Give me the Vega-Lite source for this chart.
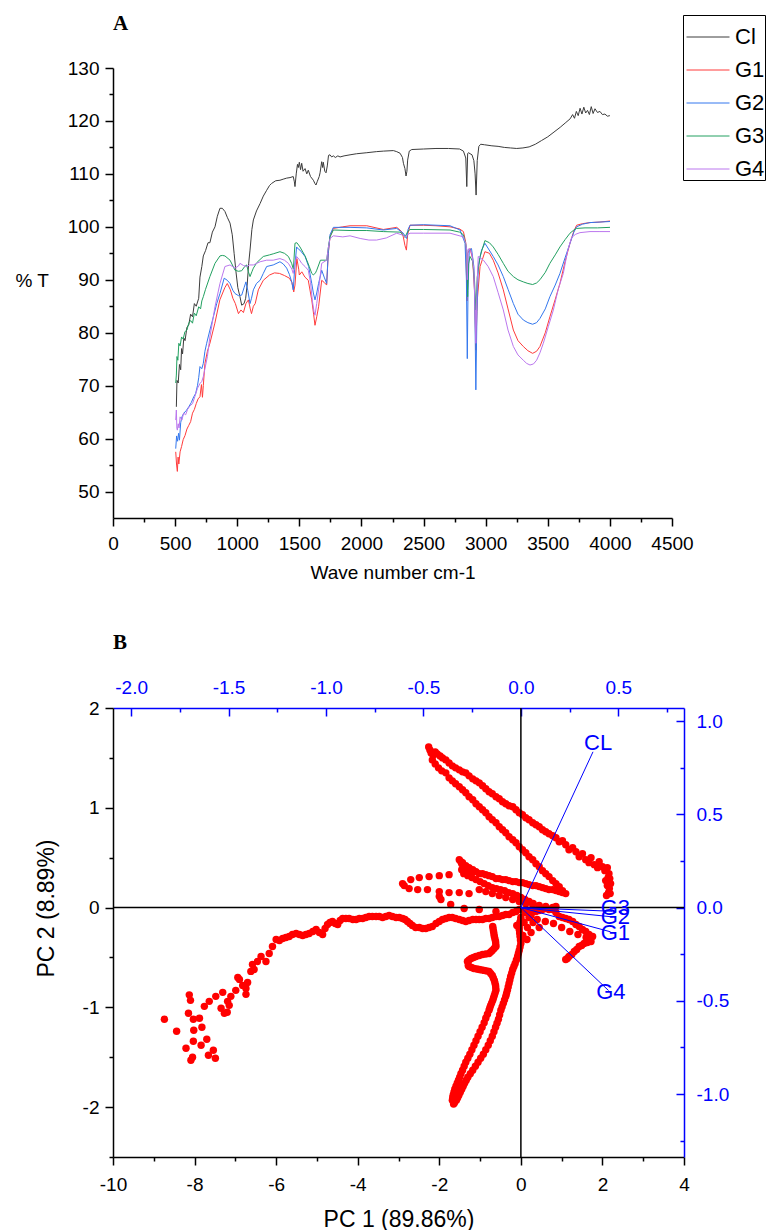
{
"$schema": "https://vega.github.io/schema/vega-lite/v6.json",
"background": "white",
"padding": {"left": 15, "top": 13, "right": 0, "bottom": 0},
"config": {"font": "Liberation Sans", "view": {"stroke": null}, "axis": {"grid": false, "labelFont": "Liberation Sans", "titleFont": "Liberation Sans", "titleFontWeight": "normal"}},
"spacing": 50,
"datasets": {
"spectra": [
{"s":"Cl","wn":510,"T":66},{"s":"Cl","wn":515,"T":71},{"s":"Cl","wn":525,"T":70.5},{"s":"Cl","wn":535,"T":74},{"s":"Cl","wn":545,"T":73},{"s":"Cl","wn":552,"T":77},{"s":"Cl","wn":560,"T":76},{"s":"Cl","wn":570,"T":79},{"s":"Cl","wn":580,"T":78.5},{"s":"Cl","wn":595,"T":81},{"s":"Cl","wn":610,"T":81.5},{"s":"Cl","wn":625,"T":83.5},{"s":"Cl","wn":640,"T":83},{"s":"Cl","wn":655,"T":85.5},{"s":"Cl","wn":670,"T":85},{"s":"Cl","wn":690,"T":86.5},{"s":"Cl","wn":700,"T":90.5},{"s":"Cl","wn":715,"T":92.5},{"s":"Cl","wn":727,"T":94.5},{"s":"Cl","wn":745,"T":95.5},{"s":"Cl","wn":765,"T":97},{"s":"Cl","wn":780,"T":97},{"s":"Cl","wn":800,"T":99},{"s":"Cl","wn":821,"T":100},{"s":"Cl","wn":840,"T":102},{"s":"Cl","wn":861,"T":103.5},{"s":"Cl","wn":880,"T":103.5},{"s":"Cl","wn":901,"T":102.9},{"s":"Cl","wn":920,"T":101.8},{"s":"Cl","wn":942,"T":100.7},{"s":"Cl","wn":960,"T":98.5},{"s":"Cl","wn":975,"T":95},{"s":"Cl","wn":990,"T":91.5},{"s":"Cl","wn":1005,"T":88.5},{"s":"Cl","wn":1022,"T":86.8},{"s":"Cl","wn":1036,"T":85.2},{"s":"Cl","wn":1055,"T":85.5},{"s":"Cl","wn":1068,"T":86.5},{"s":"Cl","wn":1080,"T":89},{"s":"Cl","wn":1092,"T":93},{"s":"Cl","wn":1103,"T":95.6},{"s":"Cl","wn":1118,"T":99.5},{"s":"Cl","wn":1130,"T":101.3},{"s":"Cl","wn":1155,"T":103},{"s":"Cl","wn":1184,"T":104.4},{"s":"Cl","wn":1210,"T":105.8},{"s":"Cl","wn":1237,"T":106.9},{"s":"Cl","wn":1260,"T":107.8},{"s":"Cl","wn":1277,"T":108.2},{"s":"Cl","wn":1310,"T":108.7},{"s":"Cl","wn":1344,"T":108.8},{"s":"Cl","wn":1370,"T":109},{"s":"Cl","wn":1398,"T":109.2},{"s":"Cl","wn":1425,"T":109.3},{"s":"Cl","wn":1451,"T":109.5},{"s":"Cl","wn":1460,"T":108.5},{"s":"Cl","wn":1465,"T":107.6},{"s":"Cl","wn":1475,"T":110},{"s":"Cl","wn":1485,"T":111.8},{"s":"Cl","wn":1492,"T":111.2},{"s":"Cl","wn":1500,"T":112.2},{"s":"Cl","wn":1510,"T":110.8},{"s":"Cl","wn":1519,"T":112},{"s":"Cl","wn":1530,"T":110.5},{"s":"Cl","wn":1546,"T":111},{"s":"Cl","wn":1560,"T":110},{"s":"Cl","wn":1572,"T":110.7},{"s":"Cl","wn":1590,"T":109.5},{"s":"Cl","wn":1613,"T":108.8},{"s":"Cl","wn":1625,"T":108.2},{"s":"Cl","wn":1634,"T":107.9},{"s":"Cl","wn":1645,"T":108.6},{"s":"Cl","wn":1660,"T":109.5},{"s":"Cl","wn":1667,"T":110.2},{"s":"Cl","wn":1680,"T":112.3},{"s":"Cl","wn":1688,"T":111.2},{"s":"Cl","wn":1693,"T":112.2},{"s":"Cl","wn":1705,"T":110.5},{"s":"Cl","wn":1715,"T":110.2},{"s":"Cl","wn":1725,"T":111.5},{"s":"Cl","wn":1735,"T":113.5},{"s":"Cl","wn":1747,"T":113.6},{"s":"Cl","wn":1760,"T":113.2},{"s":"Cl","wn":1774,"T":113.4},{"s":"Cl","wn":1790,"T":113.1},{"s":"Cl","wn":1810,"T":113.4},{"s":"Cl","wn":1828,"T":113.2},{"s":"Cl","wn":1860,"T":113.4},{"s":"Cl","wn":1908,"T":113.6},{"s":"Cl","wn":1960,"T":113.8},{"s":"Cl","wn":2043,"T":114},{"s":"Cl","wn":2120,"T":114.2},{"s":"Cl","wn":2176,"T":114.3},{"s":"Cl","wn":2257,"T":114.4},{"s":"Cl","wn":2284,"T":114.2},{"s":"Cl","wn":2311,"T":113.9},{"s":"Cl","wn":2330,"T":113.1},{"s":"Cl","wn":2338,"T":112},{"s":"Cl","wn":2350,"T":111},{"s":"Cl","wn":2359,"T":109.6},{"s":"Cl","wn":2366,"T":110.5},{"s":"Cl","wn":2372,"T":112.6},{"s":"Cl","wn":2385,"T":114.3},{"s":"Cl","wn":2405,"T":114.6},{"s":"Cl","wn":2500,"T":114.7},{"s":"Cl","wn":2600,"T":114.8},{"s":"Cl","wn":2700,"T":114.8},{"s":"Cl","wn":2790,"T":114.7},{"s":"Cl","wn":2821,"T":114.3},{"s":"Cl","wn":2840,"T":113},{"s":"Cl","wn":2848,"T":107.6},{"s":"Cl","wn":2855,"T":113.8},{"s":"Cl","wn":2861,"T":114},{"s":"Cl","wn":2890,"T":113.6},{"s":"Cl","wn":2905,"T":112.5},{"s":"Cl","wn":2915,"T":110},{"s":"Cl","wn":2923,"T":106},{"s":"Cl","wn":2932,"T":112.5},{"s":"Cl","wn":2945,"T":115.2},{"s":"Cl","wn":2960,"T":115.6},{"s":"Cl","wn":2990,"T":115.5},{"s":"Cl","wn":3050,"T":115.3},{"s":"Cl","wn":3100,"T":115.2},{"s":"Cl","wn":3150,"T":115},{"s":"Cl","wn":3200,"T":114.9},{"s":"Cl","wn":3250,"T":114.8},{"s":"Cl","wn":3300,"T":114.9},{"s":"Cl","wn":3350,"T":115.1},{"s":"Cl","wn":3400,"T":115.6},{"s":"Cl","wn":3450,"T":116.3},{"s":"Cl","wn":3500,"T":117},{"s":"Cl","wn":3550,"T":117.9},{"s":"Cl","wn":3600,"T":118.8},{"s":"Cl","wn":3640,"T":119.6},{"s":"Cl","wn":3680,"T":120.4},{"s":"Cl","wn":3700,"T":121.2},{"s":"Cl","wn":3715,"T":120.5},{"s":"Cl","wn":3730,"T":121.8},{"s":"Cl","wn":3745,"T":121},{"s":"Cl","wn":3760,"T":122.4},{"s":"Cl","wn":3775,"T":121.3},{"s":"Cl","wn":3790,"T":122.6},{"s":"Cl","wn":3805,"T":121.5},{"s":"Cl","wn":3820,"T":122},{"s":"Cl","wn":3835,"T":121.2},{"s":"Cl","wn":3850,"T":122.7},{"s":"Cl","wn":3865,"T":121.4},{"s":"Cl","wn":3880,"T":122.3},{"s":"Cl","wn":3900,"T":121.6},{"s":"Cl","wn":3920,"T":121.8},{"s":"Cl","wn":3940,"T":121.2},{"s":"Cl","wn":3960,"T":121.3},{"s":"Cl","wn":3980,"T":120.9},{"s":"Cl","wn":4000,"T":121},
{"s":"G1","wn":505,"T":57.5},{"s":"G1","wn":512,"T":55},{"s":"G1","wn":518,"T":53.8},{"s":"G1","wn":524,"T":56.5},{"s":"G1","wn":530,"T":55.2},{"s":"G1","wn":540,"T":57.5},{"s":"G1","wn":552,"T":58.5},{"s":"G1","wn":565,"T":59.8},{"s":"G1","wn":580,"T":60.6},{"s":"G1","wn":595,"T":61.8},{"s":"G1","wn":610,"T":62.5},{"s":"G1","wn":625,"T":63.2},{"s":"G1","wn":640,"T":64.8},{"s":"G1","wn":655,"T":65.5},{"s":"G1","wn":670,"T":66.6},{"s":"G1","wn":685,"T":67.5},{"s":"G1","wn":700,"T":67.9},{"s":"G1","wn":712,"T":70.2},{"s":"G1","wn":720,"T":67.8},{"s":"G1","wn":727,"T":70},{"s":"G1","wn":740,"T":74.2},{"s":"G1","wn":760,"T":76.5},{"s":"G1","wn":780,"T":78},{"s":"G1","wn":820,"T":81.8},{"s":"G1","wn":860,"T":86.2},{"s":"G1","wn":900,"T":88.5},{"s":"G1","wn":920,"T":89.3},{"s":"G1","wn":945,"T":88.1},{"s":"G1","wn":965,"T":86.5},{"s":"G1","wn":985,"T":85.5},{"s":"G1","wn":1010,"T":83.6},{"s":"G1","wn":1030,"T":84.3},{"s":"G1","wn":1050,"T":83.8},{"s":"G1","wn":1070,"T":85.5},{"s":"G1","wn":1090,"T":86.2},{"s":"G1","wn":1105,"T":84.5},{"s":"G1","wn":1115,"T":83.6},{"s":"G1","wn":1130,"T":85},{"s":"G1","wn":1145,"T":85.5},{"s":"G1","wn":1170,"T":88.1},{"s":"G1","wn":1210,"T":89.9},{"s":"G1","wn":1260,"T":90.9},{"s":"G1","wn":1300,"T":91.3},{"s":"G1","wn":1340,"T":91.2},{"s":"G1","wn":1380,"T":90.8},{"s":"G1","wn":1420,"T":90.3},{"s":"G1","wn":1440,"T":89.5},{"s":"G1","wn":1455,"T":87.7},{"s":"G1","wn":1465,"T":89},{"s":"G1","wn":1480,"T":94},{"s":"G1","wn":1495,"T":92},{"s":"G1","wn":1500,"T":90.9},{"s":"G1","wn":1520,"T":91.5},{"s":"G1","wn":1545,"T":90.5},{"s":"G1","wn":1572,"T":89.9},{"s":"G1","wn":1590,"T":87.5},{"s":"G1","wn":1600,"T":86.2},{"s":"G1","wn":1615,"T":83.5},{"s":"G1","wn":1626,"T":81.4},{"s":"G1","wn":1640,"T":83},{"s":"G1","wn":1655,"T":84.9},{"s":"G1","wn":1680,"T":89.9},{"s":"G1","wn":1700,"T":89.5},{"s":"G1","wn":1720,"T":89},{"s":"G1","wn":1733,"T":95},{"s":"G1","wn":1747,"T":98.1},{"s":"G1","wn":1774,"T":99.7},{"s":"G1","wn":1850,"T":100},{"s":"G1","wn":1908,"T":100.2},{"s":"G1","wn":2043,"T":100.2},{"s":"G1","wn":2176,"T":99.5},{"s":"G1","wn":2284,"T":99.9},{"s":"G1","wn":2320,"T":99.2},{"s":"G1","wn":2337,"T":98.1},{"s":"G1","wn":2350,"T":96.5},{"s":"G1","wn":2362,"T":95.6},{"s":"G1","wn":2372,"T":98.5},{"s":"G1","wn":2391,"T":100.3},{"s":"G1","wn":2500,"T":100.3},{"s":"G1","wn":2600,"T":100.2},{"s":"G1","wn":2713,"T":100},{"s":"G1","wn":2790,"T":99.6},{"s":"G1","wn":2821,"T":99.1},{"s":"G1","wn":2840,"T":97},{"s":"G1","wn":2850,"T":86},{"s":"G1","wn":2856,"T":95},{"s":"G1","wn":2874,"T":95.9},{"s":"G1","wn":2895,"T":94},{"s":"G1","wn":2910,"T":88},{"s":"G1","wn":2921,"T":76.7},{"s":"G1","wn":2932,"T":86},{"s":"G1","wn":2955,"T":92.5},{"s":"G1","wn":2994,"T":95.3},{"s":"G1","wn":3030,"T":95},{"s":"G1","wn":3061,"T":93.7},{"s":"G1","wn":3100,"T":91.3},{"s":"G1","wn":3142,"T":88.1},{"s":"G1","wn":3180,"T":84.5},{"s":"G1","wn":3223,"T":80.5},{"s":"G1","wn":3260,"T":78.5},{"s":"G1","wn":3303,"T":77.4},{"s":"G1","wn":3340,"T":76.6},{"s":"G1","wn":3378,"T":76.1},{"s":"G1","wn":3410,"T":76.5},{"s":"G1","wn":3437,"T":77.4},{"s":"G1","wn":3480,"T":80},{"s":"G1","wn":3517,"T":83},{"s":"G1","wn":3560,"T":86.3},{"s":"G1","wn":3598,"T":89.3},{"s":"G1","wn":3640,"T":93.5},{"s":"G1","wn":3679,"T":96.9},{"s":"G1","wn":3710,"T":99.2},{"s":"G1","wn":3732,"T":100.3},{"s":"G1","wn":3780,"T":100.6},{"s":"G1","wn":3840,"T":100.8},{"s":"G1","wn":3920,"T":100.9},{"s":"G1","wn":4001,"T":101.1},
{"s":"G2","wn":505,"T":58.1},{"s":"G2","wn":512,"T":60.5},{"s":"G2","wn":520,"T":59.5},{"s":"G2","wn":528,"T":61},{"s":"G2","wn":535,"T":59.7},{"s":"G2","wn":545,"T":63},{"s":"G2","wn":555,"T":64.1},{"s":"G2","wn":570,"T":64.8},{"s":"G2","wn":590,"T":65.3},{"s":"G2","wn":610,"T":66},{"s":"G2","wn":630,"T":66.8},{"s":"G2","wn":650,"T":67.9},{"s":"G2","wn":665,"T":68.5},{"s":"G2","wn":680,"T":70},{"s":"G2","wn":690,"T":71.5},{"s":"G2","wn":700,"T":73.6},{"s":"G2","wn":715,"T":73.2},{"s":"G2","wn":727,"T":74.2},{"s":"G2","wn":740,"T":76.5},{"s":"G2","wn":754,"T":78},{"s":"G2","wn":780,"T":80.5},{"s":"G2","wn":808,"T":83},{"s":"G2","wn":835,"T":85.5},{"s":"G2","wn":861,"T":87.4},{"s":"G2","wn":895,"T":90.3},{"s":"G2","wn":920,"T":89.9},{"s":"G2","wn":942,"T":89.3},{"s":"G2","wn":965,"T":88},{"s":"G2","wn":982,"T":87.4},{"s":"G2","wn":1010,"T":87},{"s":"G2","wn":1036,"T":87.1},{"s":"G2","wn":1055,"T":88.5},{"s":"G2","wn":1070,"T":89.6},{"s":"G2","wn":1085,"T":88},{"s":"G2","wn":1103,"T":85.5},{"s":"G2","wn":1115,"T":86.5},{"s":"G2","wn":1130,"T":88.1},{"s":"G2","wn":1155,"T":89.3},{"s":"G2","wn":1184,"T":89.9},{"s":"G2","wn":1210,"T":91.2},{"s":"G2","wn":1237,"T":92.5},{"s":"G2","wn":1290,"T":92.8},{"s":"G2","wn":1344,"T":93.4},{"s":"G2","wn":1370,"T":93},{"s":"G2","wn":1398,"T":92.2},{"s":"G2","wn":1420,"T":91},{"s":"G2","wn":1440,"T":89.5},{"s":"G2","wn":1451,"T":88.1},{"s":"G2","wn":1462,"T":92},{"s":"G2","wn":1478,"T":96.2},{"s":"G2","wn":1492,"T":95.8},{"s":"G2","wn":1505,"T":95.6},{"s":"G2","wn":1546,"T":94.4},{"s":"G2","wn":1575,"T":92.5},{"s":"G2","wn":1600,"T":89.3},{"s":"G2","wn":1613,"T":87.5},{"s":"G2","wn":1626,"T":86.2},{"s":"G2","wn":1640,"T":87.5},{"s":"G2","wn":1655,"T":89.3},{"s":"G2","wn":1680,"T":91.8},{"s":"G2","wn":1700,"T":90.5},{"s":"G2","wn":1720,"T":89.3},{"s":"G2","wn":1733,"T":95},{"s":"G2","wn":1747,"T":98.5},{"s":"G2","wn":1774,"T":99.9},{"s":"G2","wn":1908,"T":99.9},{"s":"G2","wn":2043,"T":99.8},{"s":"G2","wn":2176,"T":99.4},{"s":"G2","wn":2284,"T":99.7},{"s":"G2","wn":2337,"T":98.8},{"s":"G2","wn":2364,"T":97.8},{"s":"G2","wn":2375,"T":99.5},{"s":"G2","wn":2391,"T":100.3},{"s":"G2","wn":2500,"T":100.4},{"s":"G2","wn":2713,"T":100.2},{"s":"G2","wn":2794,"T":99.4},{"s":"G2","wn":2834,"T":96.9},{"s":"G2","wn":2845,"T":90},{"s":"G2","wn":2852,"T":75.1},{"s":"G2","wn":2858,"T":88},{"s":"G2","wn":2868,"T":95.6},{"s":"G2","wn":2886,"T":95.9},{"s":"G2","wn":2905,"T":92.5},{"s":"G2","wn":2913,"T":85},{"s":"G2","wn":2921,"T":69.2},{"s":"G2","wn":2930,"T":84},{"s":"G2","wn":2940,"T":92.5},{"s":"G2","wn":2967,"T":95.6},{"s":"G2","wn":2994,"T":96.9},{"s":"G2","wn":3061,"T":94.4},{"s":"G2","wn":3100,"T":92.8},{"s":"G2","wn":3142,"T":90.6},{"s":"G2","wn":3180,"T":88.2},{"s":"G2","wn":3223,"T":85.5},{"s":"G2","wn":3260,"T":83.5},{"s":"G2","wn":3303,"T":82.4},{"s":"G2","wn":3340,"T":81.9},{"s":"G2","wn":3378,"T":81.6},{"s":"G2","wn":3410,"T":81.9},{"s":"G2","wn":3437,"T":82.7},{"s":"G2","wn":3480,"T":84.5},{"s":"G2","wn":3517,"T":86.8},{"s":"G2","wn":3560,"T":89},{"s":"G2","wn":3598,"T":91.2},{"s":"G2","wn":3640,"T":94.2},{"s":"G2","wn":3679,"T":96.9},{"s":"G2","wn":3710,"T":99},{"s":"G2","wn":3732,"T":100},{"s":"G2","wn":3780,"T":100.5},{"s":"G2","wn":3840,"T":100.8},{"s":"G2","wn":3920,"T":100.9},{"s":"G2","wn":4001,"T":101},
{"s":"G3","wn":505,"T":70.5},{"s":"G3","wn":510,"T":72},{"s":"G3","wn":515,"T":75.5},{"s":"G3","wn":522,"T":74.8},{"s":"G3","wn":530,"T":78},{"s":"G3","wn":540,"T":77.5},{"s":"G3","wn":552,"T":79.2},{"s":"G3","wn":565,"T":78.8},{"s":"G3","wn":579,"T":80.2},{"s":"G3","wn":595,"T":80.5},{"s":"G3","wn":610,"T":81.8},{"s":"G3","wn":625,"T":82.3},{"s":"G3","wn":640,"T":81.8},{"s":"G3","wn":655,"T":83.7},{"s":"G3","wn":670,"T":83.2},{"s":"G3","wn":690,"T":84.9},{"s":"G3","wn":705,"T":84.5},{"s":"G3","wn":715,"T":86},{"s":"G3","wn":727,"T":86.8},{"s":"G3","wn":745,"T":88.2},{"s":"G3","wn":780,"T":90.6},{"s":"G3","wn":821,"T":93.1},{"s":"G3","wn":861,"T":94.5},{"s":"G3","wn":880,"T":94.6},{"s":"G3","wn":901,"T":94.5},{"s":"G3","wn":942,"T":93.7},{"s":"G3","wn":982,"T":91.8},{"s":"G3","wn":1010,"T":91.6},{"s":"G3","wn":1036,"T":91.7},{"s":"G3","wn":1060,"T":92.5},{"s":"G3","wn":1076,"T":92.8},{"s":"G3","wn":1090,"T":91.5},{"s":"G3","wn":1103,"T":90.6},{"s":"G3","wn":1118,"T":91.5},{"s":"G3","wn":1130,"T":92.2},{"s":"G3","wn":1160,"T":93.3},{"s":"G3","wn":1210,"T":94.4},{"s":"G3","wn":1260,"T":94.7},{"s":"G3","wn":1290,"T":94.9},{"s":"G3","wn":1344,"T":95.3},{"s":"G3","wn":1380,"T":95},{"s":"G3","wn":1412,"T":94.4},{"s":"G3","wn":1438,"T":93.1},{"s":"G3","wn":1452,"T":92},{"s":"G3","wn":1465,"T":96.9},{"s":"G3","wn":1480,"T":97},{"s":"G3","wn":1505,"T":96.2},{"s":"G3","wn":1546,"T":94.5},{"s":"G3","wn":1560,"T":93.7},{"s":"G3","wn":1580,"T":92.5},{"s":"G3","wn":1600,"T":91.2},{"s":"G3","wn":1613,"T":90.9},{"s":"G3","wn":1630,"T":91.3},{"s":"G3","wn":1640,"T":91.8},{"s":"G3","wn":1670,"T":93.7},{"s":"G3","wn":1720,"T":93.7},{"s":"G3","wn":1733,"T":96},{"s":"G3","wn":1747,"T":98.1},{"s":"G3","wn":1774,"T":99.4},{"s":"G3","wn":1908,"T":99.3},{"s":"G3","wn":2043,"T":99.3},{"s":"G3","wn":2176,"T":99.1},{"s":"G3","wn":2311,"T":99},{"s":"G3","wn":2337,"T":98.5},{"s":"G3","wn":2350,"T":98},{"s":"G3","wn":2372,"T":99.1},{"s":"G3","wn":2391,"T":99.5},{"s":"G3","wn":2500,"T":99.5},{"s":"G3","wn":2713,"T":99.4},{"s":"G3","wn":2790,"T":99},{"s":"G3","wn":2821,"T":98.5},{"s":"G3","wn":2842,"T":96.5},{"s":"G3","wn":2848,"T":95.6},{"s":"G3","wn":2855,"T":86.8},{"s":"G3","wn":2862,"T":93},{"s":"G3","wn":2874,"T":94.4},{"s":"G3","wn":2895,"T":93.5},{"s":"G3","wn":2910,"T":90},{"s":"G3","wn":2921,"T":84.3},{"s":"G3","wn":2932,"T":90.5},{"s":"G3","wn":2955,"T":94.4},{"s":"G3","wn":2994,"T":97.4},{"s":"G3","wn":3030,"T":97},{"s":"G3","wn":3061,"T":96.2},{"s":"G3","wn":3100,"T":94.8},{"s":"G3","wn":3142,"T":93.1},{"s":"G3","wn":3180,"T":91.6},{"s":"G3","wn":3223,"T":90.6},{"s":"G3","wn":3260,"T":90},{"s":"G3","wn":3303,"T":89.6},{"s":"G3","wn":3340,"T":89.3},{"s":"G3","wn":3378,"T":89.1},{"s":"G3","wn":3410,"T":89.4},{"s":"G3","wn":3437,"T":90},{"s":"G3","wn":3480,"T":91.4},{"s":"G3","wn":3517,"T":93.1},{"s":"G3","wn":3560,"T":94.7},{"s":"G3","wn":3598,"T":96.2},{"s":"G3","wn":3640,"T":97.6},{"s":"G3","wn":3679,"T":98.8},{"s":"G3","wn":3710,"T":99.4},{"s":"G3","wn":3732,"T":99.7},{"s":"G3","wn":3800,"T":99.8},{"s":"G3","wn":3900,"T":99.8},{"s":"G3","wn":4001,"T":99.9},
{"s":"G4","wn":505,"T":63.5},{"s":"G4","wn":510,"T":65.4},{"s":"G4","wn":514,"T":62},{"s":"G4","wn":518,"T":61.6},{"s":"G4","wn":525,"T":62.8},{"s":"G4","wn":532,"T":62},{"s":"G4","wn":540,"T":64.1},{"s":"G4","wn":555,"T":63.5},{"s":"G4","wn":568,"T":64.8},{"s":"G4","wn":585,"T":64.5},{"s":"G4","wn":600,"T":65.5},{"s":"G4","wn":620,"T":66.2},{"s":"G4","wn":640,"T":66.6},{"s":"G4","wn":660,"T":68},{"s":"G4","wn":680,"T":69.5},{"s":"G4","wn":700,"T":70.4},{"s":"G4","wn":715,"T":70.8},{"s":"G4","wn":727,"T":71.7},{"s":"G4","wn":760,"T":75.5},{"s":"G4","wn":780,"T":79.2},{"s":"G4","wn":821,"T":84.9},{"s":"G4","wn":861,"T":89.3},{"s":"G4","wn":901,"T":92.5},{"s":"G4","wn":942,"T":92.8},{"s":"G4","wn":982,"T":92.2},{"s":"G4","wn":1010,"T":92.6},{"s":"G4","wn":1022,"T":93.1},{"s":"G4","wn":1050,"T":92.7},{"s":"G4","wn":1076,"T":92.5},{"s":"G4","wn":1100,"T":92.8},{"s":"G4","wn":1130,"T":92.8},{"s":"G4","wn":1184,"T":93.4},{"s":"G4","wn":1237,"T":93.7},{"s":"G4","wn":1290,"T":93.7},{"s":"G4","wn":1344,"T":94},{"s":"G4","wn":1380,"T":93.7},{"s":"G4","wn":1412,"T":93.1},{"s":"G4","wn":1440,"T":92},{"s":"G4","wn":1451,"T":91.2},{"s":"G4","wn":1463,"T":93},{"s":"G4","wn":1478,"T":94.4},{"s":"G4","wn":1500,"T":93.8},{"s":"G4","wn":1519,"T":93.1},{"s":"G4","wn":1546,"T":92.5},{"s":"G4","wn":1572,"T":91.8},{"s":"G4","wn":1590,"T":89.5},{"s":"G4","wn":1605,"T":86},{"s":"G4","wn":1618,"T":84},{"s":"G4","wn":1626,"T":83.3},{"s":"G4","wn":1640,"T":85.5},{"s":"G4","wn":1655,"T":88.1},{"s":"G4","wn":1680,"T":93.1},{"s":"G4","wn":1720,"T":93.7},{"s":"G4","wn":1733,"T":96},{"s":"G4","wn":1747,"T":97.8},{"s":"G4","wn":1774,"T":98.3},{"s":"G4","wn":1850,"T":98.1},{"s":"G4","wn":1908,"T":98.3},{"s":"G4","wn":1990,"T":97.8},{"s":"G4","wn":2060,"T":97.5},{"s":"G4","wn":2122,"T":97.5},{"s":"G4","wn":2200,"T":97.9},{"s":"G4","wn":2284,"T":98.8},{"s":"G4","wn":2337,"T":98.4},{"s":"G4","wn":2350,"T":98.1},{"s":"G4","wn":2372,"T":98.5},{"s":"G4","wn":2391,"T":98.8},{"s":"G4","wn":2500,"T":98.8},{"s":"G4","wn":2713,"T":98.8},{"s":"G4","wn":2821,"T":98.1},{"s":"G4","wn":2840,"T":96.8},{"s":"G4","wn":2848,"T":95.6},{"s":"G4","wn":2852,"T":90},{"s":"G4","wn":2858,"T":95.5},{"s":"G4","wn":2866,"T":95.9},{"s":"G4","wn":2888,"T":95},{"s":"G4","wn":2905,"T":92},{"s":"G4","wn":2913,"T":86},{"s":"G4","wn":2921,"T":78},{"s":"G4","wn":2930,"T":88},{"s":"G4","wn":2940,"T":94.4},{"s":"G4","wn":2982,"T":93.7},{"s":"G4","wn":3020,"T":92.5},{"s":"G4","wn":3061,"T":90.6},{"s":"G4","wn":3100,"T":87.6},{"s":"G4","wn":3142,"T":84.3},{"s":"G4","wn":3180,"T":80.5},{"s":"G4","wn":3223,"T":77.4},{"s":"G4","wn":3260,"T":75.8},{"s":"G4","wn":3303,"T":74.8},{"s":"G4","wn":3330,"T":74.2},{"s":"G4","wn":3357,"T":73.9},{"s":"G4","wn":3385,"T":74.1},{"s":"G4","wn":3410,"T":74.8},{"s":"G4","wn":3437,"T":76.2},{"s":"G4","wn":3464,"T":78},{"s":"G4","wn":3505,"T":81.2},{"s":"G4","wn":3545,"T":84.3},{"s":"G4","wn":3585,"T":88.3},{"s":"G4","wn":3625,"T":91.2},{"s":"G4","wn":3660,"T":95.5},{"s":"G4","wn":3692,"T":98},{"s":"G4","wn":3725,"T":98.6},{"s":"G4","wn":3759,"T":98.9},{"s":"G4","wn":3840,"T":99.1},{"s":"G4","wn":3920,"T":99.1},{"s":"G4","wn":4001,"T":99.1}
],
"scores": [
{"pc1":-8.74,"pc2":-1.12},{"pc1":-8.44,"pc2":-1.24},{"pc1":-8.13,"pc2":-0.875},{"pc1":-8.10,"pc2":-0.93},{"pc1":-8.15,"pc2":-1.06},{"pc1":-8.03,"pc2":-1.12},{"pc1":-8.02,"pc2":-1.23},{"pc1":-8.03,"pc2":-1.34},{"pc1":-8.21,"pc2":-1.41},{"pc1":-8.09,"pc2":-1.53},{"pc1":-8.05,"pc2":-1.50},{"pc1":-7.84,"pc2":-1.38},{"pc1":-7.82,"pc2":-1.20},{"pc1":-7.70,"pc2":-1.32},{"pc1":-7.66,"pc2":-1.48},{"pc1":-7.54,"pc2":-1.43},{"pc1":-7.49,"pc2":-1.51},
{"pc1":-7.88,"pc2":-1.11},{"pc1":-7.76,"pc2":-0.99},{"pc1":-7.64,"pc2":-0.94},{"pc1":-7.48,"pc2":-0.89},{"pc1":-7.31,"pc2":-0.85},{"pc1":-7.27,"pc2":-1.06},{"pc1":-7.35,"pc2":-1.01},{"pc1":-7.20,"pc2":-1.05},{"pc1":-7.15,"pc2":-0.98},{"pc1":-7.19,"pc2":-0.94},{"pc1":-7.11,"pc2":-0.89},{"pc1":-6.99,"pc2":-0.83},{"pc1":-6.90,"pc2":-0.72},{"pc1":-6.94,"pc2":-0.70},{"pc1":-6.82,"pc2":-0.78},{"pc1":-6.74,"pc2":-0.81},{"pc1":-6.74,"pc2":-0.87},{"pc1":-6.70,"pc2":-0.75},{"pc1":-6.62,"pc2":-0.64},{"pc1":-6.58,"pc2":-0.57},{"pc1":-6.54,"pc2":-0.62},{"pc1":-6.46,"pc2":-0.54},{"pc1":-6.37,"pc2":-0.49},{"pc1":-6.25,"pc2":-0.54},{"pc1":-6.17,"pc2":-0.46},{"pc1":-6.09,"pc2":-0.39},{"pc1":-6.00,"pc2":-0.32},{"pc1":-5.92,"pc2":-0.33},{"pc1":-5.84,"pc2":-0.31},{"pc1":-5.76,"pc2":-0.30},{"pc1":-5.68,"pc2":-0.29},{"pc1":-5.60,"pc2":-0.27},{"pc1":-5.51,"pc2":-0.26},{"pc1":-5.43,"pc2":-0.27},{"pc1":-5.35,"pc2":-0.28},{"pc1":-5.27,"pc2":-0.27},{"pc1":-5.19,"pc2":-0.26},{"pc1":-5.10,"pc2":-0.24},{"pc1":-5.02,"pc2":-0.22},{"pc1":-4.94,"pc2":-0.25},{"pc1":-4.86,"pc2":-0.27},{"pc1":-4.80,"pc2":-0.21},{"pc1":-4.74,"pc2":-0.17},{"pc1":-4.68,"pc2":-0.15},{"pc1":-4.62,"pc2":-0.14},{"pc1":-4.55,"pc2":-0.16},{"pc1":-4.49,"pc2":-0.17},{"pc1":-4.43,"pc2":-0.13},{"pc1":-4.37,"pc2":-0.11},{"pc1":-4.29,"pc2":-0.11},{"pc1":-4.21,"pc2":-0.11},{"pc1":-4.12,"pc2":-0.12},{"pc1":-4.04,"pc2":-0.12},{"pc1":-3.96,"pc2":-0.11},{"pc1":-3.88,"pc2":-0.11},{"pc1":-3.80,"pc2":-0.10},{"pc1":-3.72,"pc2":-0.09},{"pc1":-3.64,"pc2":-0.09},{"pc1":-3.55,"pc2":-0.09},{"pc1":-3.47,"pc2":-0.09},{"pc1":-3.39,"pc2":-0.10},{"pc1":-3.31,"pc2":-0.09},{"pc1":-3.23,"pc2":-0.08},{"pc1":-3.15,"pc2":-0.09},{"pc1":-3.06,"pc2":-0.10},{"pc1":-2.98,"pc2":-0.10},{"pc1":-2.90,"pc2":-0.11},{"pc1":-2.84,"pc2":-0.12},{"pc1":-2.78,"pc2":-0.14},{"pc1":-2.72,"pc2":-0.16},{"pc1":-2.66,"pc2":-0.18},{"pc1":-2.58,"pc2":-0.20},{"pc1":-2.49,"pc2":-0.20},{"pc1":-2.41,"pc2":-0.21},{"pc1":-2.33,"pc2":-0.21},{"pc1":-2.25,"pc2":-0.20},{"pc1":-2.17,"pc2":-0.19},{"pc1":-2.08,"pc2":-0.16},{"pc1":-2.00,"pc2":-0.14},{"pc1":-1.92,"pc2":-0.12},{"pc1":-1.84,"pc2":-0.11},{"pc1":-1.76,"pc2":-0.10},{"pc1":-1.68,"pc2":-0.10},{"pc1":-1.60,"pc2":-0.11},{"pc1":-1.51,"pc2":-0.12},{"pc1":-1.43,"pc2":-0.13},{"pc1":-1.35,"pc2":-0.14},{"pc1":-1.27,"pc2":-0.13},{"pc1":-1.18,"pc2":-0.12},{"pc1":-1.10,"pc2":-0.12},{"pc1":-1.02,"pc2":-0.12},{"pc1":-0.94,"pc2":-0.12},{"pc1":-0.86,"pc2":-0.11},{"pc1":-0.78,"pc2":-0.11},{"pc1":-0.70,"pc2":-0.10},{"pc1":-0.61,"pc2":-0.09},{"pc1":-0.53,"pc2":-0.09},{"pc1":-0.45,"pc2":-0.08},{"pc1":-0.37,"pc2":-0.07},{"pc1":-0.29,"pc2":-0.07},{"pc1":-0.20,"pc2":-0.05},{"pc1":-0.12,"pc2":-0.04},{"pc1":-0.04,"pc2":-0.02},
{"pc1":-2.26,"pc2":1.61},{"pc1":-2.23,"pc2":1.58},{"pc1":-2.20,"pc2":1.55},{"pc1":-2.15,"pc2":1.53},{"pc1":-2.10,"pc2":1.56},{"pc1":-2.05,"pc2":1.54},{"pc1":-1.98,"pc2":1.52},{"pc1":-1.92,"pc2":1.50},
{"pc1":-1.84,"pc2":1.48},{"pc1":-1.76,"pc2":1.45},{"pc1":-1.68,"pc2":1.42},{"pc1":-1.60,"pc2":1.40},{"pc1":-1.51,"pc2":1.38},{"pc1":-1.43,"pc2":1.36},{"pc1":-1.35,"pc2":1.35},{"pc1":-1.27,"pc2":1.32},{"pc1":-1.18,"pc2":1.29},{"pc1":-1.10,"pc2":1.27},{"pc1":-1.02,"pc2":1.25},{"pc1":-0.94,"pc2":1.22},{"pc1":-0.86,"pc2":1.19},{"pc1":-0.78,"pc2":1.16},{"pc1":-0.70,"pc2":1.14},{"pc1":-0.61,"pc2":1.11},{"pc1":-0.53,"pc2":1.09},{"pc1":-0.45,"pc2":1.06},{"pc1":-0.37,"pc2":1.04},{"pc1":-0.29,"pc2":1.02},{"pc1":-0.20,"pc2":1.01},{"pc1":-0.12,"pc2":0.98},{"pc1":-0.04,"pc2":0.95},{"pc1":0.04,"pc2":0.93},{"pc1":0.12,"pc2":0.90},{"pc1":0.20,"pc2":0.88},{"pc1":0.29,"pc2":0.85},{"pc1":0.37,"pc2":0.83},{"pc1":0.45,"pc2":0.81},{"pc1":0.53,"pc2":0.78},{"pc1":0.61,"pc2":0.76},{"pc1":0.69,"pc2":0.74},{"pc1":0.78,"pc2":0.72},{"pc1":0.86,"pc2":0.70},{"pc1":0.94,"pc2":0.66},{"pc1":1.02,"pc2":0.67},{"pc1":1.10,"pc2":0.63},{"pc1":1.18,"pc2":0.58},{"pc1":1.27,"pc2":0.60},{"pc1":1.35,"pc2":0.56},{"pc1":1.43,"pc2":0.51},{"pc1":1.51,"pc2":0.54},{"pc1":1.59,"pc2":0.48},{"pc1":1.67,"pc2":0.45},{"pc1":1.72,"pc2":0.50},{"pc1":1.80,"pc2":0.43},{"pc1":1.88,"pc2":0.40},{"pc1":1.92,"pc2":0.46},{"pc1":2.00,"pc2":0.41},{"pc1":2.06,"pc2":0.37},{"pc1":2.12,"pc2":0.40},{"pc1":2.16,"pc2":0.34},{"pc1":2.18,"pc2":0.29},{"pc1":2.20,"pc2":0.24},{"pc1":2.17,"pc2":0.19},{"pc1":2.12,"pc2":0.22},{"pc1":2.08,"pc2":0.27},{"pc1":2.14,"pc2":0.30},{"pc1":2.15,"pc2":0.15},{"pc1":2.10,"pc2":0.12},{"pc1":2.19,"pc2":0.14},
{"pc1":-2.17,"pc2":1.48},{"pc1":-2.10,"pc2":1.44},{"pc1":-2.02,"pc2":1.40},{"pc1":-1.94,"pc2":1.37},{"pc1":-1.84,"pc2":1.35},{"pc1":-1.76,"pc2":1.30},{"pc1":-1.68,"pc2":1.27},{"pc1":-1.60,"pc2":1.24},{"pc1":-1.51,"pc2":1.21},{"pc1":-1.43,"pc2":1.18},{"pc1":-1.35,"pc2":1.15},{"pc1":-1.27,"pc2":1.11},{"pc1":-1.18,"pc2":1.08},{"pc1":-1.10,"pc2":1.04},{"pc1":-1.02,"pc2":1.01},{"pc1":-0.94,"pc2":0.98},{"pc1":-0.86,"pc2":0.95},{"pc1":-0.78,"pc2":0.91},{"pc1":-0.70,"pc2":0.88},{"pc1":-0.61,"pc2":0.85},{"pc1":-0.53,"pc2":0.81},{"pc1":-0.45,"pc2":0.78},{"pc1":-0.37,"pc2":0.75},{"pc1":-0.29,"pc2":0.71},{"pc1":-0.20,"pc2":0.68},{"pc1":-0.12,"pc2":0.65},{"pc1":-0.04,"pc2":0.61},{"pc1":0.04,"pc2":0.58},{"pc1":0.12,"pc2":0.55},{"pc1":0.20,"pc2":0.51},{"pc1":0.29,"pc2":0.48},{"pc1":0.37,"pc2":0.44},{"pc1":0.45,"pc2":0.41},{"pc1":0.53,"pc2":0.37},{"pc1":0.61,"pc2":0.34},{"pc1":0.69,"pc2":0.31},{"pc1":0.78,"pc2":0.27},{"pc1":0.86,"pc2":0.24},{"pc1":0.94,"pc2":0.21},{"pc1":1.02,"pc2":0.17},{"pc1":1.10,"pc2":0.14},
{"pc1":1.02,"pc2":0.15},{"pc1":0.94,"pc2":0.16},{"pc1":0.86,"pc2":0.17},{"pc1":0.78,"pc2":0.18},{"pc1":0.69,"pc2":0.18},{"pc1":0.61,"pc2":0.19},{"pc1":0.53,"pc2":0.20},{"pc1":0.45,"pc2":0.21},{"pc1":0.37,"pc2":0.22},{"pc1":0.29,"pc2":0.22},{"pc1":0.20,"pc2":0.23},{"pc1":0.12,"pc2":0.24},{"pc1":0.04,"pc2":0.25},{"pc1":-0.04,"pc2":0.25},{"pc1":-0.12,"pc2":0.26},{"pc1":-0.20,"pc2":0.26},{"pc1":-0.29,"pc2":0.27},{"pc1":-0.37,"pc2":0.28},{"pc1":-0.45,"pc2":0.28},{"pc1":-0.53,"pc2":0.29},{"pc1":-0.61,"pc2":0.29},{"pc1":-0.70,"pc2":0.31},{"pc1":-0.78,"pc2":0.32},{"pc1":-0.86,"pc2":0.33},{"pc1":-0.94,"pc2":0.34},{"pc1":-1.02,"pc2":0.34},{"pc1":-1.10,"pc2":0.36},{"pc1":-1.18,"pc2":0.38},{"pc1":-1.27,"pc2":0.40},{"pc1":-1.35,"pc2":0.42},{"pc1":-1.43,"pc2":0.45},{"pc1":-1.47,"pc2":0.46},
{"pc1":-1.51,"pc2":0.48},{"pc1":-1.45,"pc2":0.44},{"pc1":-1.40,"pc2":0.40},{"pc1":-1.30,"pc2":0.37},{"pc1":-1.18,"pc2":0.36},{"pc1":-1.45,"pc2":0.38},{"pc1":-1.40,"pc2":0.34},{"pc1":-1.30,"pc2":0.32},{"pc1":-1.2,"pc2":0.3},{"pc1":-1.1,"pc2":0.28},{"pc1":-1.0,"pc2":0.26},{"pc1":-0.9,"pc2":0.24},{"pc1":-0.8,"pc2":0.22},{"pc1":-0.7,"pc2":0.20},{"pc1":-0.6,"pc2":0.19},{"pc1":-0.5,"pc2":0.18},{"pc1":-0.4,"pc2":0.17},{"pc1":-0.3,"pc2":0.15},{"pc1":-0.2,"pc2":0.14},{"pc1":-0.1,"pc2":0.12},{"pc1":0.0,"pc2":0.10},{"pc1":0.1,"pc2":0.08},{"pc1":0.2,"pc2":0.06},{"pc1":0.3,"pc2":0.04},{"pc1":-1.02,"pc2":0.18},{"pc1":-0.86,"pc2":0.16},{"pc1":-0.70,"pc2":0.14},{"pc1":-0.53,"pc2":0.12},{"pc1":-0.37,"pc2":0.10},{"pc1":-0.20,"pc2":0.08},{"pc1":-0.04,"pc2":0.06},{"pc1":0.12,"pc2":0.04},{"pc1":0.29,"pc2":0.03},{"pc1":0.45,"pc2":0.02},{"pc1":0.61,"pc2":0.01},{"pc1":0.78,"pc2":0.0},{"pc1":0.86,"pc2":0.01},
{"pc1":-2.90,"pc2":0.24},{"pc1":-2.70,"pc2":0.28},{"pc1":-2.49,"pc2":0.30},{"pc1":-2.25,"pc2":0.31},{"pc1":-2.00,"pc2":0.32},{"pc1":-1.76,"pc2":0.33},
{"pc1":-2.86,"pc2":0.22},{"pc1":-2.74,"pc2":0.19},{"pc1":-2.53,"pc2":0.18},{"pc1":-2.29,"pc2":0.18},{"pc1":-2.00,"pc2":0.16},{"pc1":-1.76,"pc2":0.15},{"pc1":-1.51,"pc2":0.15},{"pc1":-1.27,"pc2":0.14},
{"pc1":-2.0,"pc2":0.11},{"pc1":-1.96,"pc2":0.08},{"pc1":-1.72,"pc2":0.03},{"pc1":-1.39,"pc2":-0.01},{"pc1":-1.02,"pc2":-0.02},{"pc1":-0.61,"pc2":-0.04},
{"pc1":0.12,"pc2":-0.02},{"pc1":0.20,"pc2":-0.03},{"pc1":0.29,"pc2":-0.03},{"pc1":0.37,"pc2":-0.04},{"pc1":0.45,"pc2":-0.03},{"pc1":0.53,"pc2":-0.02},{"pc1":0.61,"pc2":-0.01},{"pc1":0.69,"pc2":-0.02},{"pc1":0.78,"pc2":-0.02},{"pc1":0.86,"pc2":-0.05},{"pc1":0.94,"pc2":-0.09},{"pc1":1.02,"pc2":-0.10},{"pc1":1.10,"pc2":-0.11},{"pc1":1.18,"pc2":-0.12},{"pc1":1.27,"pc2":-0.14},{"pc1":1.35,"pc2":-0.17},{"pc1":1.43,"pc2":-0.19},{"pc1":1.51,"pc2":-0.22},{"pc1":1.59,"pc2":-0.24},{"pc1":1.67,"pc2":-0.27},{"pc1":1.76,"pc2":-0.29},{"pc1":1.72,"pc2":-0.34},{"pc1":1.63,"pc2":-0.35},{"pc1":1.55,"pc2":-0.36},{"pc1":1.49,"pc2":-0.38},{"pc1":1.43,"pc2":-0.39},{"pc1":1.37,"pc2":-0.42},{"pc1":1.31,"pc2":-0.44},{"pc1":1.25,"pc2":-0.47},{"pc1":1.18,"pc2":-0.49},{"pc1":1.14,"pc2":-0.51},{"pc1":1.10,"pc2":-0.52},
{"pc1":0.2,"pc2":-0.1},{"pc1":0.4,"pc2":-0.12},{"pc1":0.6,"pc2":-0.14},{"pc1":0.8,"pc2":-0.16},{"pc1":1.0,"pc2":-0.2},{"pc1":1.2,"pc2":-0.24},{"pc1":1.4,"pc2":-0.27},{"pc1":1.6,"pc2":-0.3},
{"pc1":0.0,"pc2":-0.10},{"pc1":0.08,"pc2":-0.15},{"pc1":0.16,"pc2":-0.2},{"pc1":0.25,"pc2":-0.25},{"pc1":-0.1,"pc2":-0.18},{"pc1":0.05,"pc2":-0.28},{"pc1":0.15,"pc2":-0.32},{"pc1":0.3,"pc2":-0.15},{"pc1":0.45,"pc2":-0.2},{"pc1":0.25,"pc2":-0.08},{"pc1":0.1,"pc2":-0.05},
{"pc1":-0.69,"pc2":-0.19},{"pc1":-0.68,"pc2":-0.215},{"pc1":-0.67,"pc2":-0.24},{"pc1":-0.66,"pc2":-0.265},{"pc1":-0.65,"pc2":-0.29},{"pc1":-0.635,"pc2":-0.315},{"pc1":-0.62,"pc2":-0.34},{"pc1":-0.615,"pc2":-0.365},{"pc1":-0.61,"pc2":-0.39},{"pc1":-0.655,"pc2":-0.41},{"pc1":-0.70,"pc2":-0.43},{"pc1":-0.74,"pc2":-0.445},{"pc1":-0.78,"pc2":-0.46},{"pc1":-0.86,"pc2":-0.465},{"pc1":-0.94,"pc2":-0.47},{"pc1":-1.02,"pc2":-0.48},{"pc1":-1.10,"pc2":-0.49},{"pc1":-1.16,"pc2":-0.50},{"pc1":-1.22,"pc2":-0.51},{"pc1":-1.27,"pc2":-0.525},{"pc1":-1.31,"pc2":-0.54},{"pc1":-1.29,"pc2":-0.58},{"pc1":-1.27,"pc2":-0.59},{"pc1":-1.21,"pc2":-0.60},{"pc1":-1.15,"pc2":-0.61},{"pc1":-1.08,"pc2":-0.615},{"pc1":-1.02,"pc2":-0.62},{"pc1":-0.96,"pc2":-0.625},{"pc1":-0.90,"pc2":-0.63},{"pc1":-0.84,"pc2":-0.635},{"pc1":-0.78,"pc2":-0.64},{"pc1":-0.74,"pc2":-0.66},{"pc1":-0.70,"pc2":-0.68},{"pc1":-0.675,"pc2":-0.705},{"pc1":-0.65,"pc2":-0.73},{"pc1":-0.635,"pc2":-0.755},{"pc1":-0.62,"pc2":-0.78},{"pc1":-0.615,"pc2":-0.805},{"pc1":-0.61,"pc2":-0.83},{"pc1":-0.63,"pc2":-0.855},{"pc1":-0.65,"pc2":-0.88},{"pc1":-0.67,"pc2":-0.905},{"pc1":-0.69,"pc2":-0.93},{"pc1":-0.715,"pc2":-0.955},{"pc1":-0.74,"pc2":-0.98},{"pc1":-0.76,"pc2":-1.005},{"pc1":-0.78,"pc2":-1.03},{"pc1":-0.82,"pc2":-1.07},{"pc1":-0.86,"pc2":-1.11},{"pc1":-0.90,"pc2":-1.155},{"pc1":-0.95,"pc2":-1.20},{"pc1":-1.00,"pc2":-1.245},{"pc1":-1.05,"pc2":-1.29},{"pc1":-1.10,"pc2":-1.335},{"pc1":-1.15,"pc2":-1.38},{"pc1":-1.20,"pc2":-1.425},{"pc1":-1.25,"pc2":-1.47},{"pc1":-1.30,"pc2":-1.51},{"pc1":-1.35,"pc2":-1.55},{"pc1":-1.39,"pc2":-1.59},{"pc1":-1.43,"pc2":-1.63},{"pc1":-1.47,"pc2":-1.665},{"pc1":-1.50,"pc2":-1.70},{"pc1":-1.53,"pc2":-1.73},{"pc1":-1.56,"pc2":-1.76},{"pc1":-1.59,"pc2":-1.79},{"pc1":-1.62,"pc2":-1.82},{"pc1":-1.64,"pc2":-1.85},{"pc1":-1.66,"pc2":-1.88},{"pc1":-1.67,"pc2":-1.905},{"pc1":-1.68,"pc2":-1.93},{"pc1":-1.65,"pc2":-1.97},{"pc1":-1.60,"pc2":-1.90},{"pc1":-1.62,"pc2":-1.86},
{"pc1":0.0,"pc2":-0.12},{"pc1":-0.02,"pc2":-0.145},{"pc1":-0.04,"pc2":-0.17},{"pc1":-0.04,"pc2":-0.195},{"pc1":-0.04,"pc2":-0.22},{"pc1":-0.03,"pc2":-0.255},{"pc1":-0.02,"pc2":-0.29},{"pc1":-0.01,"pc2":-0.325},{"pc1":0.0,"pc2":-0.36},{"pc1":-0.02,"pc2":-0.395},{"pc1":-0.04,"pc2":-0.43},{"pc1":-0.06,"pc2":-0.46},{"pc1":-0.08,"pc2":-0.49},{"pc1":-0.11,"pc2":-0.525},{"pc1":-0.14,"pc2":-0.56},{"pc1":-0.17,"pc2":-0.59},{"pc1":-0.2,"pc2":-0.62},{"pc1":-0.225,"pc2":-0.655},{"pc1":-0.25,"pc2":-0.69},{"pc1":-0.27,"pc2":-0.725},{"pc1":-0.29,"pc2":-0.76},{"pc1":-0.31,"pc2":-0.795},{"pc1":-0.33,"pc2":-0.83},{"pc1":-0.35,"pc2":-0.86},{"pc1":-0.37,"pc2":-0.89},{"pc1":-0.40,"pc2":-0.925},{"pc1":-0.43,"pc2":-0.96},{"pc1":-0.46,"pc2":-0.995},{"pc1":-0.49,"pc2":-1.03},{"pc1":-0.52,"pc2":-1.075},{"pc1":-0.55,"pc2":-1.12},{"pc1":-0.585,"pc2":-1.16},{"pc1":-0.62,"pc2":-1.20},{"pc1":-0.66,"pc2":-1.245},{"pc1":-0.70,"pc2":-1.29},{"pc1":-0.75,"pc2":-1.335},{"pc1":-0.80,"pc2":-1.38},{"pc1":-0.86,"pc2":-1.425},{"pc1":-0.92,"pc2":-1.47},{"pc1":-0.985,"pc2":-1.51},{"pc1":-1.05,"pc2":-1.55},{"pc1":-1.115,"pc2":-1.59},{"pc1":-1.18,"pc2":-1.63},{"pc1":-1.24,"pc2":-1.665},{"pc1":-1.30,"pc2":-1.70},{"pc1":-1.34,"pc2":-1.73},{"pc1":-1.38,"pc2":-1.76},{"pc1":-1.415,"pc2":-1.79},{"pc1":-1.45,"pc2":-1.82},{"pc1":-1.485,"pc2":-1.85},{"pc1":-1.52,"pc2":-1.88},{"pc1":-1.55,"pc2":-1.905},{"pc1":-1.58,"pc2":-1.93},{"pc1":-1.63,"pc2":-1.96}
],
"loadings": [
{"name":"CL","lx":0.37,"ly":0.835,"tx":0.396,"ty":0.884},
{"name":"G3","lx":0.47,"ly":-0.02,"tx":0.485,"ty":0.0},
{"name":"G2","lx":0.47,"ly":-0.05,"tx":0.485,"ty":-0.05},
{"name":"G1","lx":0.46,"ly":-0.13,"tx":0.485,"ty":-0.136},
{"name":"G4","lx":0.45,"ly":-0.445,"tx":0.462,"ty":-0.453}
]
},
"vconcat": [
{
"width": 559, "height": 450,
"title": {"text": "A", "anchor": "start", "frame": "group", "font": "Liberation Serif", "fontSize": 21, "fontWeight": "bold", "color": "black", "offset": 25},
"data": {"name": "spectra"},
"mark": {"type": "line", "strokeWidth": 1},
"encoding": {
"x": {"field": "wn", "type": "quantitative", "scale": {"domain": [0, 4500], "nice": false, "zero": false},
 "axis": {"title": "Wave number cm-1", "values": [0,250,500,750,1000,1250,1500,1750,2000,2250,2500,2750,3000,3250,3500,3750,4000,4250,4500],
  "labelExpr": "datum.value % 500 == 0 ? datum.label : ''", "tickSize": {"condition": {"test": "datum.value % 500 == 0", "value": 8}, "value": 4},
  "labelFontSize": 19, "titleFontSize": 19, "labelColor": "black", "titleColor": "black", "domainColor": "black", "tickColor": "black", "domainWidth": 1.5, "tickWidth": 1.5, "labelPadding": 8, "titlePadding": 10, "labelOverlap": false, "labelFlush": false, "format": "d"}},
"y": {"field": "T", "type": "quantitative", "scale": {"domain": [45, 130], "nice": false, "zero": false},
 "axis": {"title": "% T", "titleAngle": 0, "titleX": -98, "titleY": 212, "titleAlign": "left", "titleBaseline": "middle", "values": [50,55,60,65,70,75,80,85,90,95,100,105,110,115,120,125,130],
  "labelExpr": "datum.value % 10 == 0 ? datum.label : ''", "tickSize": {"condition": {"test": "datum.value % 10 == 0", "value": 8}, "value": 4},
  "labelFontSize": 19, "titleFontSize": 19, "labelColor": "black", "titleColor": "black", "domainColor": "black", "tickColor": "black", "domainWidth": 1.5, "tickWidth": 1.5, "labelPadding": 6, "labelOverlap": false, "labelFlush": false}},
"color": {"field": "s", "type": "nominal", "scale": {"domain": ["Cl","G1","G2","G3","G4"], "range": ["#3c3c3c","#ff3b3b","#3377ee","#22a060","#bb77ee"]},
 "legend": {"title": null, "orient": "none", "legendX": 570, "legendY": -53, "symbolType": "stroke", "symbolSize": 1849, "symbolStrokeWidth": 1, "symbolOffset": 3, "labelFontSize": 22, "labelColor": "black", "labelFont": "Liberation Sans", "labelExpr": "datum.label + '      '", "strokeColor": "black", "fillColor": "white", "padding": 0, "rowPadding": -5, "labelOffset": 5}}
}
},
{
"width": 571, "height": 449,
"title": {"text": "B", "anchor": "start", "frame": "group", "font": "Liberation Serif", "fontSize": 21, "fontWeight": "bold", "color": "black", "offset": 21},
"layer": [
{"data": {"name": "scores"},
 "mark": {"type": "circle", "color": "#ff0000", "size": 55, "opacity": 1},
 "encoding": {
 "x": {"field": "pc1", "type": "quantitative", "scale": {"domain": [-10, 4], "nice": false, "zero": false},
  "axis": {"orient": "bottom", "title": "PC 1 (89.86%)", "values": [-10,-9,-8,-7,-6,-5,-4,-3,-2,-1,0,1,2,3,4],
   "labelExpr": "datum.value % 2 == 0 ? '' + datum.value : ''", "tickSize": {"condition": {"test": "datum.value % 2 == 0", "value": 8}, "value": 4},
   "labelFontSize": 19, "titleFontSize": 23, "labelColor": "black", "titleColor": "black", "domainColor": "black", "tickColor": "black", "domainWidth": 1.5, "tickWidth": 1.5, "labelPadding": 10, "titlePadding": 14, "labelOverlap": false, "labelFlush": false}},
 "y": {"field": "pc2", "type": "quantitative", "scale": {"domain": [-2.5, 2], "nice": false, "zero": false},
  "axis": {"orient": "left", "title": "PC 2 (8.89%)", "values": [-2.5,-2,-1.5,-1,-0.5,0,0.5,1,1.5,2],
   "labelExpr": "datum.value % 1 == 0 ? '' + datum.value : ''", "tickSize": {"condition": {"test": "datum.value % 1 == 0", "value": 8}, "value": 4},
   "labelFontSize": 19, "titleFontSize": 23, "titleY": 200, "labelColor": "black", "titleColor": "black", "domainColor": "black", "tickColor": "black", "domainWidth": 1.5, "tickWidth": 1.5, "labelPadding": 6, "titlePadding": 24, "labelOverlap": false, "labelFlush": false}}
 }
},
{"layer": [
 {"data": {"values": [{"z": 0}]},
  "mark": {"type": "rule", "color": "black", "strokeWidth": 1.5},
  "encoding": {"x": {"field": "z", "type": "quantitative", "scale": {"domain": [-2.093, 0.837], "nice": false, "zero": false},
   "axis": {"orient": "top", "title": null, "values": [-2,-1.75,-1.5,-1.25,-1,-0.75,-0.5,-0.25,0,0.25,0.5,0.75],
    "labelExpr": "abs(datum.value*2 - round(datum.value*2)) < 0.001 ? replace(format(datum.value, '.1f'), '\u2212', '-') : ''",
    "tickSize": {"condition": {"test": "abs(datum.value*2 - round(datum.value*2)) < 0.001", "value": -8}, "value": -4},
    "labelFontSize": 19, "labelColor": "#0000ff", "domainColor": "#0000ff", "tickColor": "#0000ff", "domainWidth": 1.5, "tickWidth": 1.5, "labelPadding": 19, "labelOverlap": false, "labelFlush": false}}}},
 {"data": {"values": [{"z": 0}]},
  "mark": {"type": "rule", "color": "black", "strokeWidth": 1.5},
  "encoding": {"y": {"field": "z", "type": "quantitative", "scale": {"domain": [-1.3375, 1.07], "nice": false, "zero": false},
   "axis": {"orient": "right", "title": null, "values": [-1.25,-1,-0.75,-0.5,-0.25,0,0.25,0.5,0.75,1],
    "labelExpr": "abs(datum.value*2 - round(datum.value*2)) < 0.001 ? replace(format(datum.value, '.1f'), '\u2212', '-') : ''",
    "tickSize": {"condition": {"test": "abs(datum.value*2 - round(datum.value*2)) < 0.001", "value": -8}, "value": -4},
    "labelFontSize": 19, "labelColor": "#0000ff", "domainColor": "#0000ff", "tickColor": "#0000ff", "domainWidth": 1.5, "tickWidth": 1.5, "labelPadding": 20, "labelOverlap": false, "labelFlush": false}}}},
 {"data": {"name": "loadings"},
  "mark": {"type": "rule", "color": "#0000ff", "strokeWidth": 1},
  "encoding": {"x": {"field": "lx", "type": "quantitative", "scale": {"domain": [-2.093, 0.837], "nice": false, "zero": false}}, "x2": {"datum": 0},
   "y": {"field": "ly", "type": "quantitative", "scale": {"domain": [-1.3375, 1.07], "nice": false, "zero": false}}, "y2": {"datum": 0}}},
 {"data": {"name": "loadings"},
  "mark": {"type": "text", "color": "#0000ff", "fontSize": 22, "align": "center", "baseline": "middle", "font": "Liberation Sans"},
  "encoding": {"x": {"field": "tx", "type": "quantitative", "scale": {"domain": [-2.093, 0.837], "nice": false, "zero": false}},
   "y": {"field": "ty", "type": "quantitative", "scale": {"domain": [-1.3375, 1.07], "nice": false, "zero": false}}, "text": {"field": "name"}}}
]}
],
"resolve": {"scale": {"x": "independent", "y": "independent"}}
}
]
}
